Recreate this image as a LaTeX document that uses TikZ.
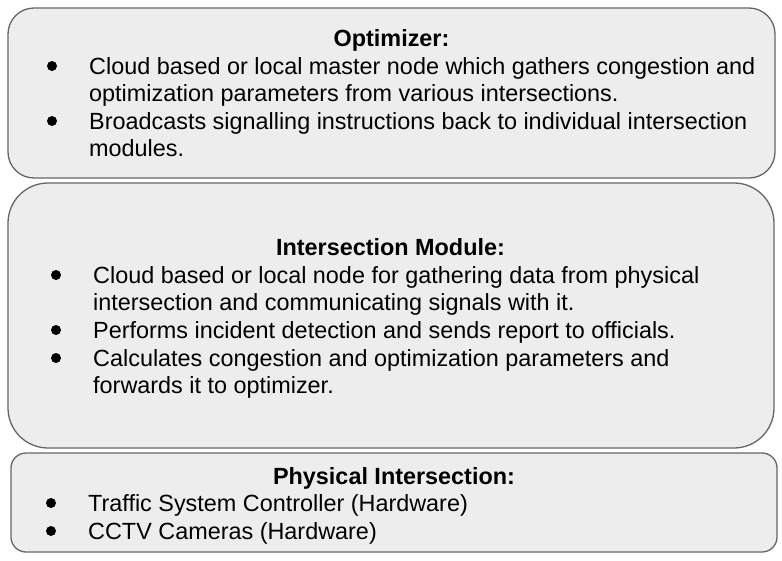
\documentclass[tikz,border=0pt]{standalone}
\usepackage{fontspec}
\setmainfont{Liberation Sans}
\begin{document}
\begin{tikzpicture}[x=1pt,y=-1pt,
  panel/.style={draw=black!60, fill=black!7, line width=1.3pt},
  title/.style={anchor=base, inner sep=0pt, font=\fontsize{23.4}{28}\selectfont\bfseries},
  item/.style={anchor=base west, inner sep=0pt, font=\fontsize{23.4}{28}\selectfont},
  dot/.style={fill=black}]
\useasboundingbox (0,0) rectangle (782,560);
\fill[white] (0,0) rectangle (782,560);

% Optimizer panel
\draw[panel, rounded corners=26pt] (8,8) rectangle (775,178);
\node[title] (opt) at (391.5,46) {Optimizer:};
\fill[dot] (52,66) circle (5pt);
\node[item] (opt1) at (89,74) {Cloud based or local master node which gathers congestion and};
\node[item] (opt1b) at (89,101) {optimization parameters from various intersections.};
\fill[dot] (52,121) circle (5pt);
\node[item] (opt2) at (89,129) {Broadcasts signalling instructions back to individual intersection};
\node[item] (opt2b) at (89,156) {modules.};

% Intersection module panel
\draw[panel, rounded corners=40pt] (8,183) rectangle (774,448);
\node[title] (im) at (390.5,255) {Intersection Module:};
\fill[dot] (56,275) circle (5pt);
\node[item] (im1) at (93,283) {Cloud based or local node for gathering data from physical};
\node[item] (im1b) at (93,310) {intersection and communicating signals with it.};
\fill[dot] (56,330) circle (5pt);
\node[item] (im2) at (93,338) {Performs incident detection and sends report to officials.};
\fill[dot] (56,358) circle (5pt);
\node[item] (im3) at (93,366) {Calculates congestion and optimization parameters and};
\node[item] (im3b) at (93,393) {forwards it to optimizer.};

% Physical intersection panel
\draw[panel, rounded corners=15pt] (11,453) rectangle (777,552);
\node[title] (pi) at (394,484) {Physical Intersection:};
\fill[dot] (51,503) circle (5pt);
\node[item] (pi1) at (88,511) {Traffic System Controller (Hardware)};
\fill[dot] (51,531) circle (5pt);
\node[item] (pi2) at (88,539) {CCTV Cameras (Hardware)};
\end{tikzpicture}
\end{document}
